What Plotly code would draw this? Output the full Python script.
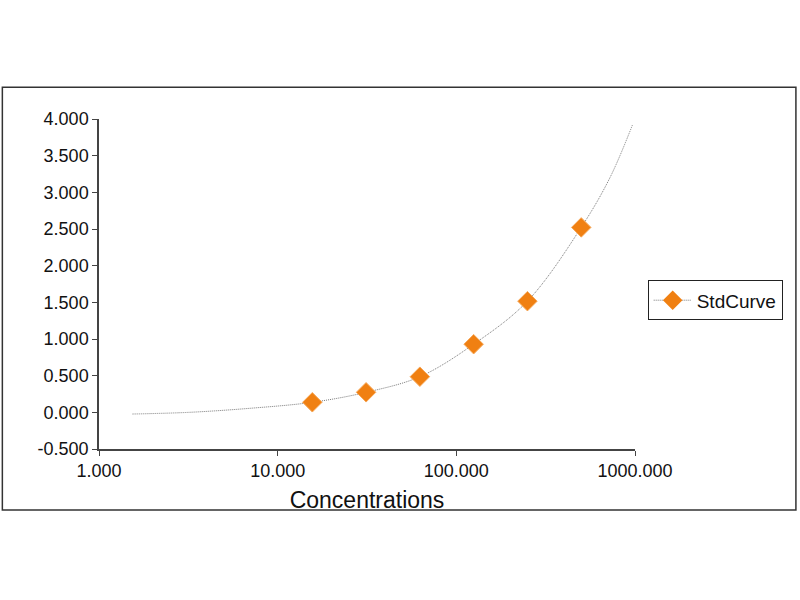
import plotly.graph_objects as go

# Data
conc = [15.625, 31.25, 62.5, 125, 250, 500]
od = [0.137, 0.273, 0.486, 0.929, 1.516, 2.522]

curve_x = [1.54, 3.2, 7.0, 15.625, 31.25, 62.5, 125, 250, 500, 724, 968]
curve_y = [-0.023, 0.0, 0.055, 0.137, 0.273, 0.486, 0.929, 1.516, 2.522, 3.20, 3.92]

x_tickvals = [1, 10, 100, 1000]
x_ticktext = ["1.000", "10.000", "100.000", "1000.000"]
y_tickvals = [-0.5, 0, 0.5, 1, 1.5, 2, 2.5, 3, 3.5, 4]
y_ticktext = ["-0.500", "0.000", "0.500", "1.000", "1.500", "2.000",
              "2.500", "3.000", "3.500", "4.000"]

series_name = "StdCurve"
orange = "#F08012"
curve_color = "#7a7a7a"
FONT = "Liberation Sans, Arial, sans-serif"

fig = go.Figure()
fig.add_trace(go.Scatter(
    x=curve_x, y=curve_y, mode="lines", line_shape="spline",
    line=dict(color=curve_color, width=1, dash="1px,1px", smoothing=1.0),
    showlegend=False, hoverinfo="skip"))
fig.add_trace(go.Scatter(
    x=conc, y=od, mode="markers",
    marker=dict(symbol="diamond", size=15, color=orange,
                line=dict(color="#F6A85A", width=1)),
    showlegend=False))
# legend entry (line + marker)
fig.add_trace(go.Scatter(
    x=[None], y=[None], mode="lines+markers", name=series_name,
    line=dict(color=curve_color, width=1, dash="1px,1px"),
    marker=dict(symbol="diamond", size=15, color=orange)))

L, R, T, B = 98.7, 635.0, 119.3, 449.0
W, H = 800, 600
pw, ph = R - L, B - T

def px(x):
    return (x - L) / pw

def py(y):
    return (B - y) / ph

fig.update_layout(
    width=W, height=H,
    margin=dict(l=L, r=W - R, t=T, b=H - B, pad=0),
    paper_bgcolor="white", plot_bgcolor="white",
    font=dict(family=FONT, size=18, color="#111"),
    xaxis=dict(type="log", range=[0, 3], tickvals=x_tickvals, ticktext=x_ticktext,
               showgrid=False, zeroline=False, showline=True, linecolor="#444",
               linewidth=1.5, ticks="outside", ticklen=5, tickwidth=1.2,
               tickcolor="#444", tickfont=dict(size=18),
               title=dict(text="Concentrations", font=dict(size=23), standoff=12)),
    yaxis=dict(range=[-0.5, 4.0], tickvals=y_tickvals, ticktext=y_ticktext,
               showgrid=False, zeroline=False, showline=True, linecolor="#444",
               linewidth=1.5, ticks="outside", ticklen=5, tickwidth=1.2,
               tickcolor="#444", tickfont=dict(size=18)),
    legend=dict(x=px(647.7), y=py(280.5), xanchor="left", yanchor="top",
                bordercolor="#222", borderwidth=1, bgcolor="white",
                font=dict(size=19), itemwidth=38, tracegroupgap=0),
    shapes=[dict(type="rect", xref="paper", yref="paper",
                 x0=px(2), x1=px(796), y0=py(510), y1=py(87.5),
                 line=dict(color="#333", width=1.5), layer="below")],
)

fig.write_html("out.html", post_script="document.body.style.margin='0';",
               config={"displayModeBar": False})
